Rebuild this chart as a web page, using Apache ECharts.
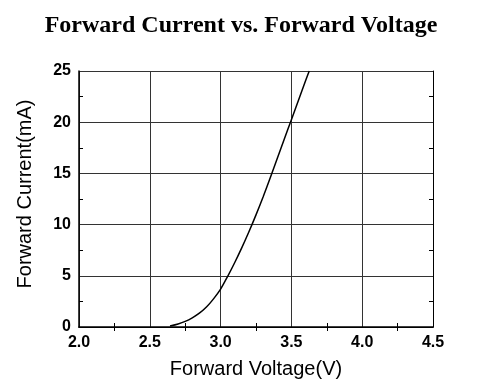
<!DOCTYPE html>
<html>
<head>
<meta charset="utf-8">
<script src="https://cdn.jsdelivr.net/npm/echarts@6/dist/echarts.min.js"></script>
<style>html,body{margin:0;padding:0;background:#fff;}#c{width:482px;height:391px;}</style>
</head>
<body>
<div id="c"></div>
<script>
var titleText = 'Forward Current vs. Forward Voltage';
var xName = 'Forward Voltage(V)';
var yName = 'Forward Current(mA)';
var voltage = [2.643, 2.70, 2.75, 2.80, 2.85, 2.90, 2.95, 3.00, 3.05, 3.10, 3.15, 3.20, 3.25, 3.30, 3.35, 3.40, 3.45, 3.50, 3.55, 3.60, 3.626];
var current = [0.1, 0.3, 0.55, 0.9, 1.35, 1.95, 2.75, 3.7, 4.95, 6.3, 7.75, 9.3, 10.95, 12.7, 14.55, 16.45, 18.35, 20.25, 22.15, 24.05, 25.0];
var xTicks = [2.0, 2.5, 3.0, 3.5, 4.0, 4.5];
var yTicks = [0, 5, 10, 15, 20, 25];

var chart = echarts.init(document.getElementById('c'));
var data = voltage.map(function (v, i) { return [v, current[i]]; });
var lblFont = { fontFamily: 'Liberation Sans, Arial', fontWeight: 'bold', fontSize: 16, color: '#000' };
var gridLine = { show: true, lineStyle: { color: '#333', width: 1 } };
var minor = { show: true, splitNumber: 2, length: 4, lineStyle: { color: '#000', width: 1 } };
var tick = { show: false, inside: true };
chart.setOption({
  animation: false,
  backgroundColor: '#fff',
  title: {
    text: titleText, left: 'center', top: 9,
    textStyle: { fontFamily: 'Liberation Serif, Times New Roman', fontWeight: 'bold', fontSize: 24, color: '#000' }
  },
  grid: { left: 79, right: 49, top: 71, bottom: 64 },
  xAxis: [{
    type: 'value', min: xTicks[0], max: xTicks[xTicks.length - 1], interval: 0.5,
    name: xName, nameLocation: 'middle', nameGap: 32,
    nameTextStyle: { fontFamily: 'Liberation Sans, Arial', fontSize: 20, color: '#000' },
    axisLine: { show: true, lineStyle: { color: '#000', width: 1.5 } },
    axisTick: tick,
    minorTick: minor,
    axisLabel: Object.assign({ margin: 8, formatter: function (v) { return v.toFixed(1); } }, lblFont),
    splitLine: gridLine
  }, {
    type: 'value', position: 'top', min: xTicks[0], max: xTicks[xTicks.length - 1], interval: 0.5,
    axisLine: { show: true, lineStyle: { color: '#000', width: 1 } },
    axisTick: tick,
    minorTick: minor,
    axisLabel: { show: false },
    splitLine: { show: false }
  }],
  yAxis: [{
    type: 'value', min: yTicks[0], max: yTicks[yTicks.length - 1], interval: 5,
    name: yName, nameLocation: 'middle', nameGap: 44, nameRotate: 90,
    nameTextStyle: { fontFamily: 'Liberation Sans, Arial', fontSize: 20, color: '#000', padding: [0, 0, 0, 10] },
    axisLine: { show: true, lineStyle: { color: '#000', width: 1.5 } },
    axisTick: tick,
    minorTick: minor,
    axisLabel: Object.assign({ margin: 8 }, lblFont),
    splitLine: gridLine
  }, {
    type: 'value', position: 'right', min: yTicks[0], max: yTicks[yTicks.length - 1], interval: 5,
    axisLine: { show: true, lineStyle: { color: '#000', width: 1 } },
    axisTick: tick,
    minorTick: minor,
    axisLabel: { show: false },
    splitLine: { show: false }
  }],
  series: [{
    type: 'line', data: data, smooth: 0.3, showSymbol: false, symbol: 'none',
    lineStyle: { color: '#000', width: 1.5 }, clip: true
  }]
});
</script>
</body>
</html>
